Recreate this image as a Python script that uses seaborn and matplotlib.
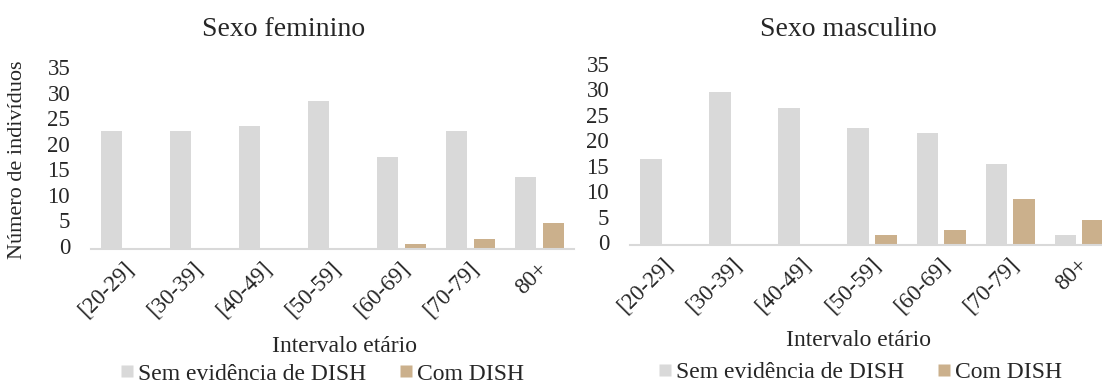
import numpy as np
import pandas as pd
import matplotlib
matplotlib.use("Agg")
import matplotlib.pyplot as plt
import matplotlib.transforms as mtransforms
from matplotlib.lines import Line2D
import seaborn as sns

# Age groups and counts per sex
faixas = ["[20-29]", "[30-39]", "[40-49]", "[50-59]", "[60-69]", "[70-79]", "80+"]
fem_sem_dish = [23, 23, 24, 29, 18, 23, 14]
fem_com_dish = [0, 0, 0, 0, 1, 2, 5]
masc_sem_dish = [17, 30, 27, 23, 22, 16, 2]
masc_com_dish = [0, 0, 0, 2, 3, 9, 5]
grupos = ["Sem evidência de DISH", "Com DISH"]
yticks = [0, 5, 10, 15, 20, 25, 30, 35]

cores = {grupos[0]: "#D9D9D9", grupos[1]: "#CBB08C"}


def long_table(sem, com):
    return pd.DataFrame({
        "Intervalo": faixas * 2,
        "Grupo": [grupos[0]] * len(faixas) + [grupos[1]] * len(faixas),
        "N": list(sem) + list(com),
    })


sns.set_theme(style="white")
plt.rcParams["font.family"] = ["Liberation Serif", "DejaVu Serif"]

fig = plt.figure(figsize=(11.02, 3.89), dpi=100)
W, H = 1102, 389


def add_axes(x0, x1, ybot, ytop):
    return fig.add_axes([x0 / W, 1 - ybot / H, (x1 - x0) / W, (ybot - ytop) / H])


ax_f = add_axes(91, 574, 249, 70)
ax_m = add_axes(630, 1114, 245, 67)

for ax, sem, com in [(ax_f, fem_sem_dish, fem_com_dish),
                     (ax_m, masc_sem_dish, masc_com_dish)]:
    df = long_table(sem, com)
    sns.barplot(data=df, x="Intervalo", y="N", hue="Grupo", order=faixas,
                hue_order=grupos, palette=cores, width=0.8, gap=0.22,
                saturation=1, edgecolor="none", legend=False, ax=ax)
    ax.set_ylim(0, 35)
    ax.set_xlim(-0.5, len(faixas) - 0.5)
    ax.set_yticks(yticks)
    ax.set_yticklabels([str(t) for t in yticks], fontsize=16.5)
    ax.tick_params(axis="y", length=0, pad=15)
    ax.tick_params(axis="x", length=0, pad=6)
    ax.set_xticks(range(len(faixas)))
    ax.set_xticklabels(faixas, fontsize=16.5, rotation=45, ha="right",
                       va="center", rotation_mode="anchor")
    shift = mtransforms.ScaledTranslation(0, 3 / 100, fig.dpi_scale_trans)
    for lab in ax.get_yticklabels():
        lab.set_transform(lab.get_transform() + shift)
    shift_x = mtransforms.ScaledTranslation(5 / 100, -8 / 100, fig.dpi_scale_trans)
    for lab in ax.get_xticklabels():
        lab.set_transform(lab.get_transform() + shift_x)
    for s in ["top", "right", "left"]:
        ax.spines[s].set_visible(False)
    ax.spines["bottom"].set_color("#D9D9D9")
    ax.spines["bottom"].set_linewidth(1.5)
    ax.set_xlabel("")
    ax.set_ylabel("")
    ax.set_facecolor("none")

# Panel titles, axis titles
fig.text(18 / W, 1 - 160 / H, "Número de indivíduos", fontsize=16, rotation=90,
         ha="center", va="center")
fig.text(284 / W, 1 - 29 / H, "Sexo feminino", fontsize=20, ha="center", va="center")
fig.text(848 / W, 1 - 29 / H, "Sexo masculino", fontsize=20, ha="center", va="center")
fig.text(345 / W, 1 - 346 / H, "Intervalo etário", fontsize=17, ha="center", va="center")
fig.text(858 / W, 1 - 341 / H, "Intervalo etário", fontsize=17, ha="center", va="center")

# Legends below each panel
handles = [Line2D([], [], marker="s", linestyle="none", markersize=8,
                  markerfacecolor=cores[g], markeredgecolor="none") for g in grupos]
for cx, cy in [(322, 374), (860, 372)]:
    fig.legend(handles, grupos, loc="center", bbox_to_anchor=(cx / W, 1 - cy / H),
               ncol=2, frameon=False, fontsize=17, handlelength=0.6,
               handletextpad=0.15, columnspacing=1.4, borderpad=0)

fig.savefig("out.png", dpi=100)
